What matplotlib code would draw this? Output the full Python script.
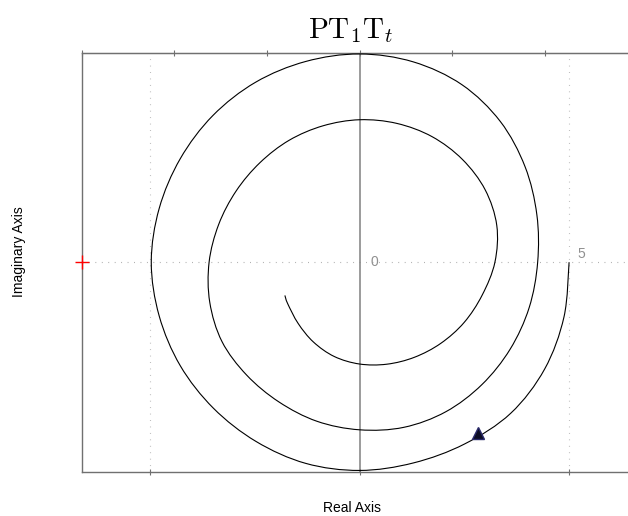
import numpy as np
import matplotlib
matplotlib.use("Agg")
from matplotlib import pyplot as plt
from matplotlib.path import Path
from matplotlib.patches import PathPatch

plt.rcParams['font.family'] = ['Liberation Sans', 'DejaVu Sans']
plt.rcParams['mathtext.fontset'] = 'cm'

# Nyquist curve read off the picture as phase lag (deg, clockwise, cumulative)
# and magnitude; it starts at K=5 and spirals inward.
phase_deg = [0, 15, 30, 45, 60, 75, 90, 105, 120, 135, 150, 165, 180,
             195, 210, 225, 240, 255, 270, 285, 300, 315, 330, 345, 360,
             375, 390, 405, 420, 435, 450, 465, 480, 495, 510, 525, 540,
             555, 570, 585, 600, 615, 630, 645, 660, 675, 690, 705, 720,
             735, 750, 765, 780, 795, 810, 825, 840, 855, 870, 876]
magnitude = [5.00, 5.05, 5.10, 5.10, 5.01, 4.96, 4.97, 4.97, 4.94, 4.93, 4.94, 4.95, 4.97,
             4.95, 4.94, 4.95, 4.96, 4.96, 4.97, 4.95, 4.89, 4.75, 4.56, 4.38, 4.25,
             4.19, 4.15, 4.13, 4.12, 4.08, 4.00, 3.93, 3.85, 3.81, 3.79, 3.70, 3.59,
             3.48, 3.40, 3.36, 3.36, 3.37, 3.40, 3.43, 3.46, 3.47, 3.46, 3.39, 3.23,
             3.03, 2.88, 2.74, 2.62, 2.52, 2.43, 2.33, 2.20, 2.07, 1.98, 1.95]

arrow_re = [2.83]
arrow_im = [-4.08]

x_lim = (-6.63, 6.63)
y_lim = (-5.0, 5.0)
top_ticks = [-6.63, -4.42, -2.21, 0.0, 2.21, 4.42]
bottom_ticks = [-5, 0, 5]
grid_x = [-5, 5]


def smooth_path(xs, ys):
    # Catmull-Rom through the read points, drawn as cubic Bezier pieces
    p = np.column_stack([xs, ys])
    p = np.vstack([p[0], p, p[-1]])
    verts = [p[1]]
    codes = [Path.MOVETO]
    for i in range(1, len(p) - 2):
        c1 = p[i] + (p[i + 1] - p[i - 1]) / 6
        c2 = p[i + 1] - (p[i + 2] - p[i]) / 6
        verts += [c1, c2, p[i + 1]]
        codes += [Path.CURVE4] * 3
    return Path(verts, codes)


phi = np.radians(phase_deg)
mag = np.array(magnitude)
re_vals = mag * np.cos(phi)
im_vals = -mag * np.sin(phi)

W, H = 628, 516
fig = plt.figure(figsize=(W / 100, H / 100), dpi=100)
ax = fig.add_axes([81.7 / W, (H - 471.7) / H, 555.7 / W, 419 / H])
ax.set_xlim(*x_lim)
ax.set_ylim(*y_lim)

spine_col = '#707070'
for s in ['top', 'bottom', 'left']:
    ax.spines[s].set_color(spine_col)
    ax.spines[s].set_linewidth(1.0)
ax.spines['right'].set_visible(False)

ax.set_yticks([])
ax.set_xticks(bottom_ticks)
ax.set_xticklabels([])
ax.tick_params(axis='x', direction='inout', length=5, color=spine_col, width=0.8)
sec = ax.secondary_xaxis('top')
sec.set_xticks(top_ticks)
sec.set_xticklabels([])
sec.spines['top'].set_color(spine_col)
sec.tick_params(axis='x', direction='inout', length=5, color=spine_col, width=0.8)

# grid lines
for gx in grid_x:
    ax.axvline(gx, color='#b8b8b8', lw=0.8, ls=(0, (0.8, 5)), zorder=1)
ax.axhline(0, color='#a8a8a8', lw=0.8, ls=(0, (0.8, 5)), zorder=1)
ax.axvline(0, color='#808080', lw=1.1, zorder=1)

ax.text(0.25, 0, '0', color='#909090', fontsize=10, va='center', ha='left')
ax.text(5.2, 0.2, '5', color='#909090', fontsize=10, va='center', ha='left')

ax.add_patch(PathPatch(smooth_path(re_vals, im_vals), facecolor='none',
                       edgecolor='black', lw=0.8, zorder=3))
ax.plot(arrow_re, arrow_im, marker='^', ms=9, color='#0c0c24',
        markeredgecolor='#2a2a6a', ls='none', zorder=4)

ax.plot([x_lim[0]], [0], marker='+', ms=10, mew=1.0, color='red', clip_on=False, zorder=5)

fig.text(351 / W, 1 - 38 / H, r'$\mathrm{PT}_1\mathrm{T}_t$', fontsize=21,
         ha='center', va='baseline')
fig.text(352 / W, 1 - 512 / H, 'Real Axis', fontsize=10, ha='center', va='baseline')
fig.text(19 / W, 1 - 252 / H, 'Imaginary Axis', fontsize=10, ha='center', va='center',
         rotation=90)

fig.savefig('out.png', dpi=100)
